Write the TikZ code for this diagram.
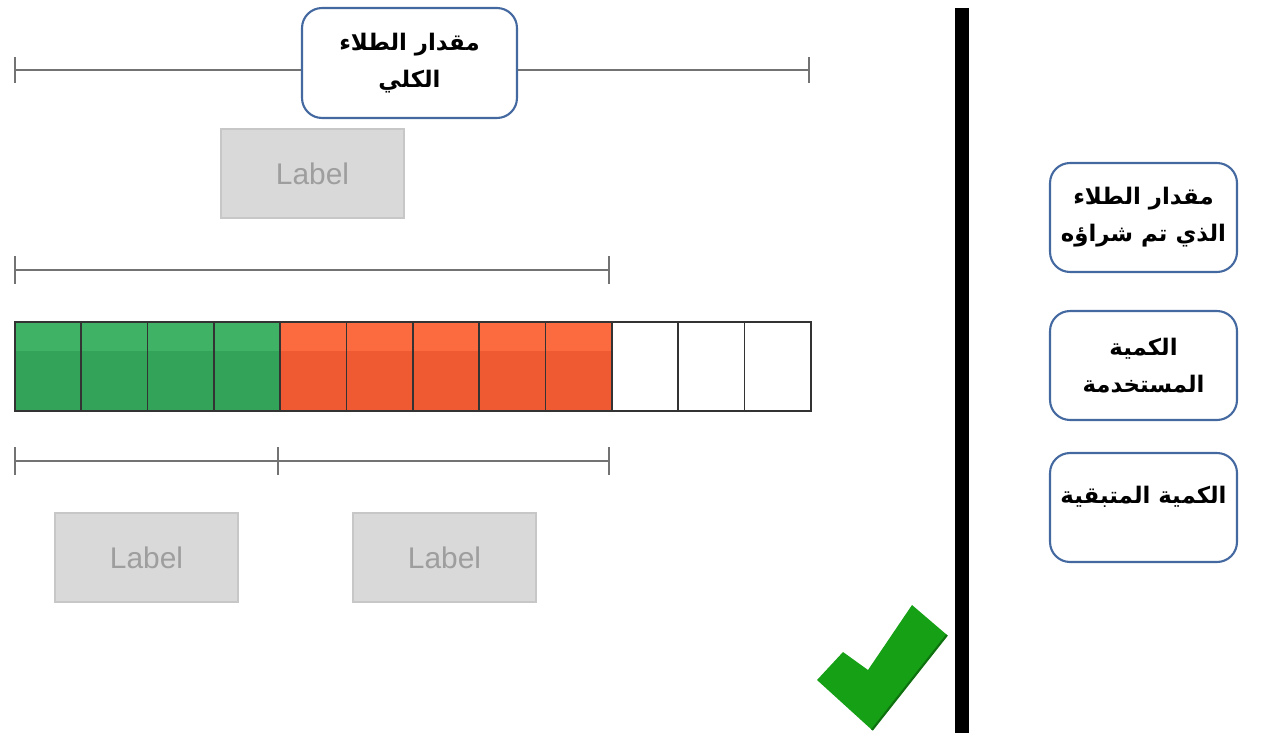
\documentclass[tikz,border=0pt]{standalone}
\usepackage{fontspec}
\setmainfont{Liberation Sans}
\newfontfamily\arabicfont[Script=Arabic]{DejaVu Sans}
\TeXXeTstate=1
\usetikzlibrary{arrows.meta}

\definecolor{boxblue}{RGB}{68,104,160}
\definecolor{bargreen}{RGB}{52,163,90}
\definecolor{bargreenhi}{RGB}{64,178,102}
\definecolor{barred}{RGB}{240,90,50}
\definecolor{barredhi}{RGB}{252,106,63}
\definecolor{labelgray}{RGB}{217,217,217}
\definecolor{tickgreen}{RGB}{22,160,22}

\tikzset{
  infobox/.style={draw=boxblue, line width=1.2pt, rounded corners=0.4cm, fill=white,
    minimum width=3.74cm, minimum height=2.18cm, align=center, inner xsep=2pt,
    font=\arabicfont\bfseries\fontsize{13}{21}\selectfont},
  dummylabel/.style={draw=black!22, fill=labelgray, line width=0.8pt,
    minimum width=3.66cm, minimum height=1.78cm, text=black!38,
    font=\fontsize{17}{20}\selectfont},
  spanline/.style={draw=black!55, line width=0.9pt},
  cell/.style 2 args={draw=black!80, line width=1pt, fill=#1, inner sep=0pt,
    minimum width=1.3267cm, minimum height=1.78cm, anchor=north west,
    path picture={\fill[#2] (path picture bounding box.north west)
      rectangle ([yshift=-0.58cm]path picture bounding box.north east);}},
}

\begin{document}
\begin{tikzpicture}[x=0.02cm,y=-0.02cm]
  \useasboundingbox (0,0) rectangle (1267,733);

  % measuring lines
  \coordinate (tot-l) at (14,70);
  \coordinate (tot-r) at (810,70);
  \coordinate (buy-l) at (14,270);
  \coordinate (buy-r) at (610,270);
  \coordinate (low-l) at (14,461);
  \coordinate (low-m) at (279,461);
  \coordinate (low-r) at (610,461);
  \draw[spanline, {Bar[width=0.52cm]}-{Bar[width=0.52cm]}] (tot-l) -- (tot-r);
  \draw[spanline, {Bar[width=0.56cm]}-{Bar[width=0.56cm]}] (buy-l) -- (buy-r);
  \draw[spanline, {Bar[width=0.56cm]}-{Bar[width=0.56cm]}] (low-l) -- (low-m);
  \draw[spanline, -{Bar[width=0.56cm]}] (low-m) -- (low-r);

  \node[infobox, minimum width=4.3cm, minimum height=2.2cm] (total) at (409.5,63)
    {\beginR مقدار الطلاء\endR\\\beginR الكلي\endR};

  % placeholder labels
  \node[dummylabel] (lab-top) at (312.5,173.5) {Label};
  \node[dummylabel] (lab-used) at (146.5,557.5) {Label};
  \node[dummylabel] (lab-left) at (444.5,557.5) {Label};

  % the bar
  \foreach \i in {0,...,3}
    \node[cell={bargreen}{bargreenhi}] (c\i) at ({14+66.33*\i},321) {};
  \foreach \i in {4,...,8}
    \node[cell={barred}{barredhi}] (c\i) at ({14+66.33*\i},321) {};
  \foreach \i in {9,...,11}
    \node[cell={white}{white}] (c\i) at ({14+66.33*\i},321) {};

  % tick mark and divider
  \fill[tickgreen] (817,680) -- (843,652) -- (868,670) -- (912,605)
    -- (947,635) -- (872,730) -- cycle;
  \draw[tickgreen!70!black, line width=1.2pt] (947,635) -- (872,730);
  \draw[line width=0.28cm] (962,8) -- (962,733);

  % answer boxes
  \node[infobox] (bought) at (1143.5,217.5)
    {\beginR مقدار الطلاء\endR\\\beginR الذي تم شراؤه\endR};
  \node[infobox] (used) at (1143.5,365.5)
    {\beginR الكمية\endR\\\beginR المستخدمة\endR};
  \node[infobox, text depth=0.5cm] (left) at (1143.5,507.5)
    {\beginR الكمية المتبقية\endR};
\end{tikzpicture}
\end{document}
